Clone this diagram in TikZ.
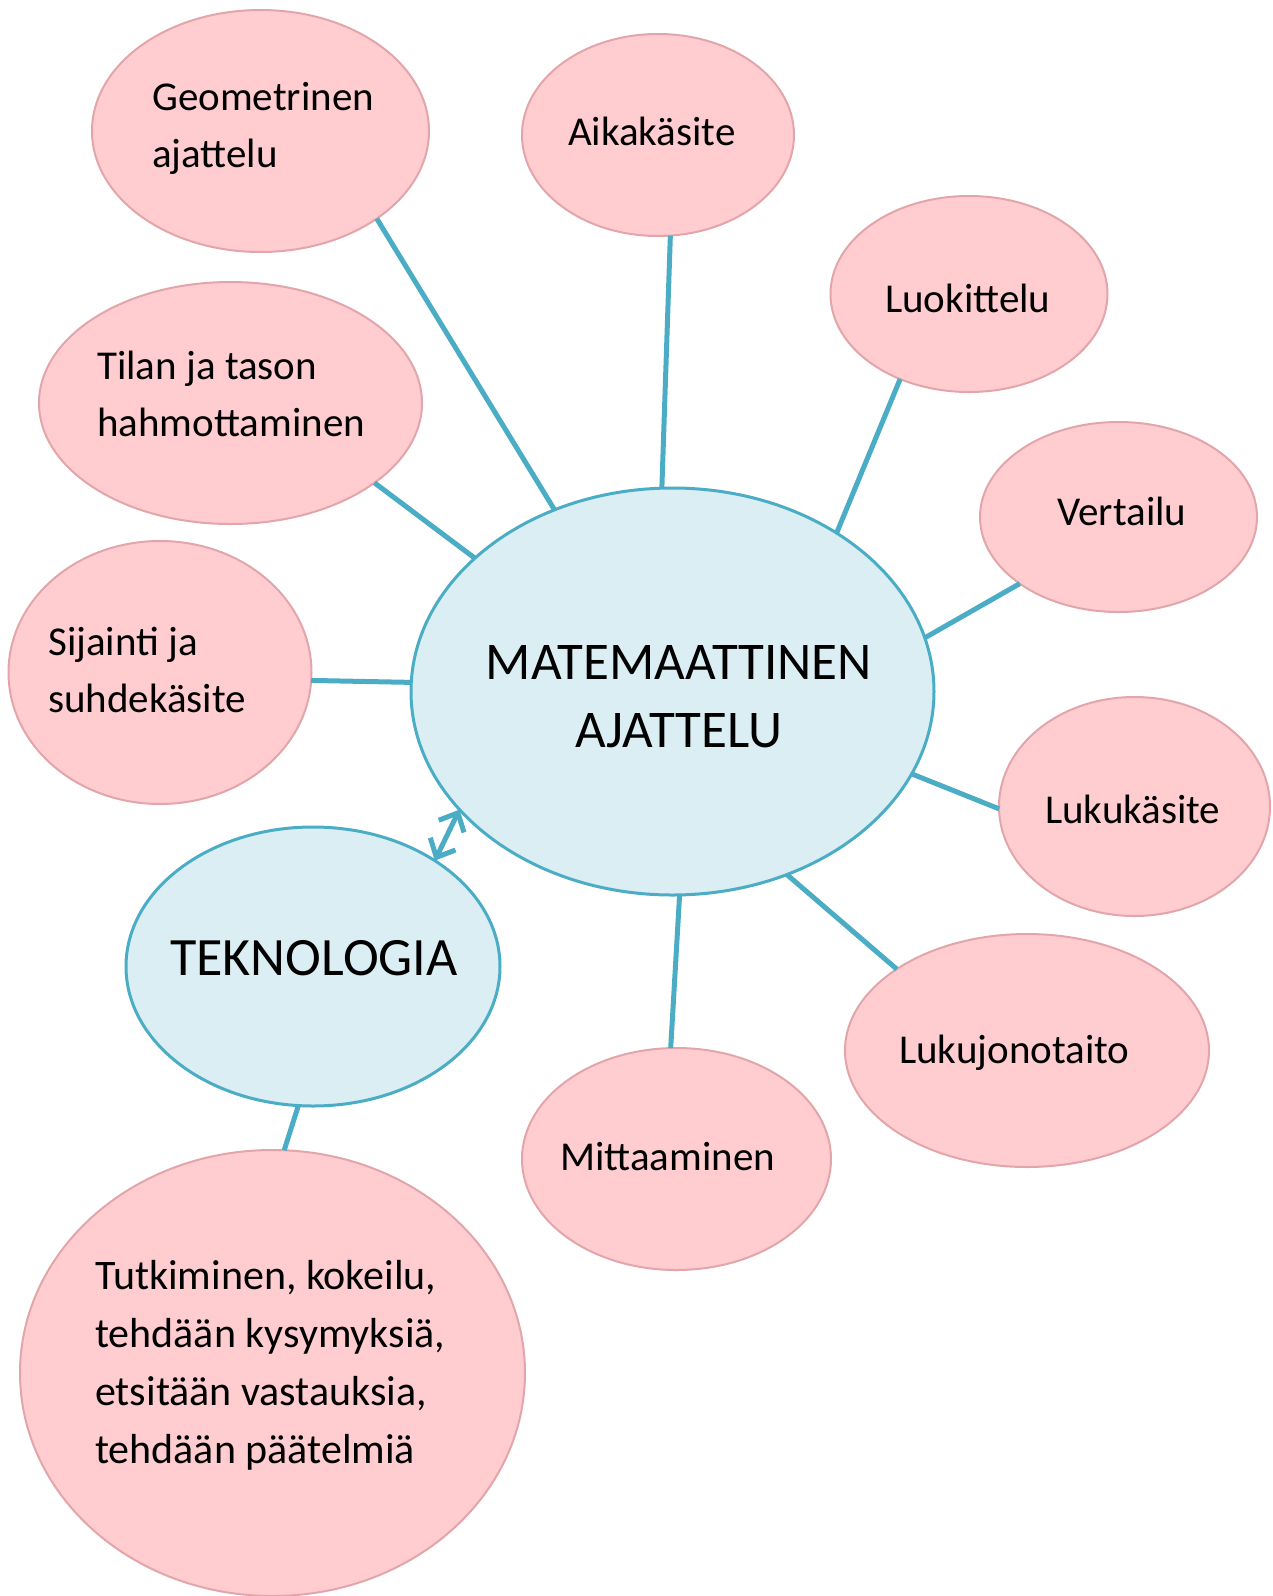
\documentclass[tikz,border=0pt]{standalone}
\usepackage{fontspec}
\setmainfont{Carlito}
\usetikzlibrary{shapes.geometric,arrows.meta}
\definecolor{pinkfill}{RGB}{255,205,208}
\definecolor{pinkline}{RGB}{226,165,170}
\definecolor{bluefill}{RGB}{218,238,243}
\definecolor{blueline}{RGB}{75,172,198}
\tikzset{
  pinkell/.style={ellipse, draw=pinkline, fill=pinkfill, line width=2pt, inner sep=0pt, outer sep=0pt},
  blueell/.style={ellipse, draw=blueline, fill=bluefill, line width=3pt, inner sep=0pt, outer sep=0pt},
  conn/.style={draw=blueline, line width=5pt},
  barb/.style={draw=blueline, line width=5pt, {Straight Barb[length=15pt,width=28pt]}-{Straight Barb[length=15pt,width=28pt]}},
  smalltxt/.style={anchor=north west, inner sep=0pt, align=left, font=\fontsize{41}{57}\selectfont},
  bigtxt/.style={inner sep=0pt, align=center, font=\fontsize{53}{68}\selectfont}
}
\begin{document}
\begin{tikzpicture}[x=1pt,y=-1pt]
\useasboundingbox (0,0) rectangle (1272,1596);
% ellipses
\node[pinkell, minimum width=337pt, minimum height=242pt] (geo) at (260.5,131) {};
\node[pinkell, minimum width=272pt, minimum height=202pt] (aika) at (658,135) {};
\node[pinkell, minimum width=277pt, minimum height=196pt] (luok) at (969,294) {};
\node[pinkell, minimum width=383pt, minimum height=242pt] (tilan) at (230.5,403) {};
\node[pinkell, minimum width=277pt, minimum height=190pt] (vert) at (1118.5,517) {};
\node[pinkell, minimum width=303pt, minimum height=263pt] (sij) at (160,672.5) {};
\node[blueell, minimum width=523pt, minimum height=407pt] (mat) at (672.5,691.5) {};
\node[pinkell, minimum width=271pt, minimum height=219pt] (luku) at (1134.5,806.5) {};
\node[blueell, minimum width=374pt, minimum height=279pt] (tek) at (313,966.5) {};
\node[pinkell, minimum width=364pt, minimum height=233pt] (lukuj) at (1027,1050.5) {};
\node[pinkell, minimum width=309pt, minimum height=222pt] (mitt) at (676.5,1159) {};
\node[pinkell, minimum width=505pt, minimum height=446pt] (tutk) at (272.5,1373) {};
% connectors
\draw[conn] (geo.-37.8) -- (mat.123.8);
\draw[conn] (aika.-83.7) -- (mat.93.7);
\draw[conn] (luok.-129.4) -- (mat.44.8);
\draw[conn] (tilan.-29.4) -- (mat.146.2);
\draw[conn] (vert.-146.8) -- (mat.12.2);
\draw[conn] (sij.-3.8) -- (mat.178);
\draw[conn] (luku.181.3) -- (mat.-19.7);
\draw[conn] (lukuj.148.4) -- (mat.-58.5);
\draw[conn] (mitt.93.2) -- (mat.-88.3);
\draw[conn] (tek.-96.2) -- (tutk.87.4);
\draw[barb] (mat.209.8) -- (tek.41.4);
% texts
\node[smalltxt] (geot) at (152,70) {\rule{0pt}{40pt}Geometrinen\\ajattelu};
\node[smalltxt] (aikat) at (568,105) {\rule{0pt}{40pt}Aikakäsite};
\node[smalltxt] (luokt) at (885,272) {\rule{0pt}{40pt}Luokittelu};
\node[smalltxt] (tilant) at (97,339) {\rule{0pt}{40pt}Tilan ja tason\\hahmottaminen};
\node[smalltxt] (vertt) at (1057,485) {\rule{0pt}{40pt}Vertailu};
\node[smalltxt] (sijt) at (48,615) {\rule{0pt}{40pt}Sijainti ja\\suhdekäsite};
\node[smalltxt] (lukut) at (1045,783) {\rule{0pt}{40pt}Lukukäsite};
\node[smalltxt] (lukujt) at (899,1023) {\rule{0pt}{40pt}Lukujonotaito};
\node[smalltxt] (mittt) at (560,1130) {\rule{0pt}{40pt}Mittaaminen};
\node[smalltxt, font=\fontsize{42}{58}\selectfont] (tutkt) at (95,1249) {\rule{0pt}{40pt}Tutkiminen, kokeilu,\\tehdään kysymyksiä,\\etsitään vastauksia,\\tehdään päätelmiä};
\node[bigtxt, anchor=north] (matt) at (679,629) {\rule{0pt}{50pt}MATEMAATTINEN\\AJATTELU};
\node[bigtxt, anchor=north west, font=\fontsize{54}{68}\selectfont] (tekt) at (170,925) {\rule{0pt}{50pt}TEKNOLOGIA};
\end{tikzpicture}
\end{document}
